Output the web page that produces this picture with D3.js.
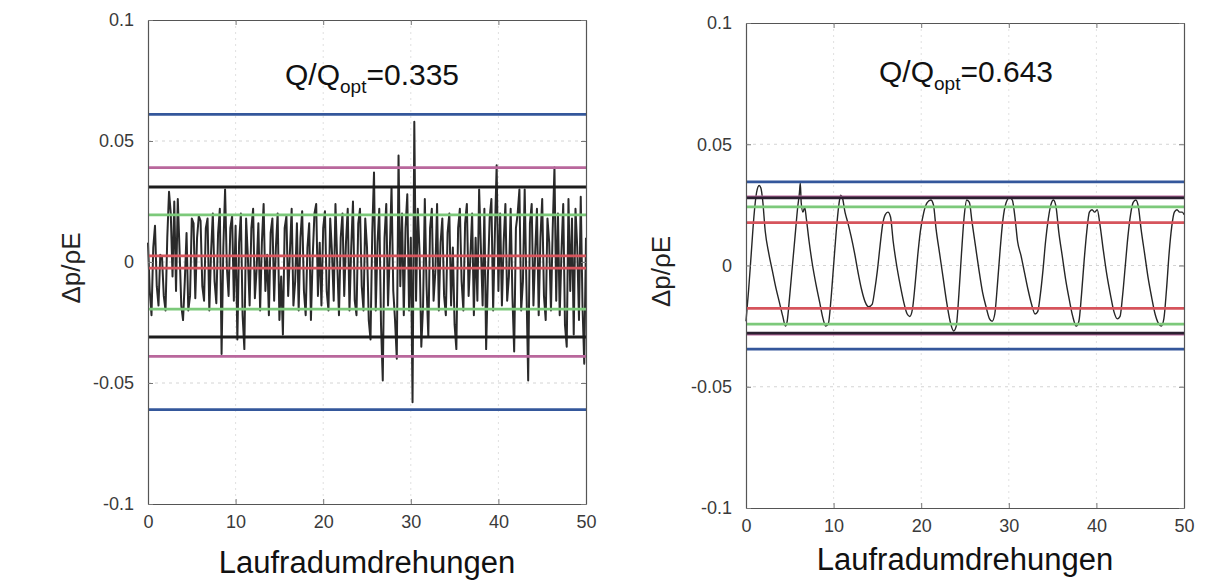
<!DOCTYPE html>
<html>
<head>
<meta charset="utf-8">
<script src="https://cdn.jsdelivr.net/npm/d3@7"></script>
<style>
  body { margin: 0; background: #fff; }
  text { font-family: "Liberation Sans", Arial, sans-serif; }
</style>
</head>
<body>
<div id="chart"></div>
<script>
// SVG size
var svgWidth = 1214;
var svgHeight = 582;

// Axis ticks
var xTicks = [0, 10, 20, 30, 40, 50];
var yTicks = [-0.1, -0.05, 0, 0.05, 0.1];
var gridX = [10, 20, 30, 40];
var gridY = [-0.05, 0, 0.05];

// Left panel: Q/Qopt = 0.335, signal sampled every 0.2 revolutions (values in 1e-3)
var leftStep = 0.2;
var leftSignal = [
  8, -12, -22, 6, 15, -10, -18, 3, 2, -14,
  -20, 10, 29, 20, -6, 25, -12, 26, 5, -18,
  -24, -8, 12, -20, -14, 18, 16, -15, 10, 19,
  17, -10, -16, 14, 18, -20, 4, 20, -8, -17,
  12, 22, -38, 6, 30, -2, -14, 14, 19, -16,
  15, -32, 8, 20, -22, -36, 18, 2, -18, 14,
  22, -15, -3, 16, -20, 8, 24, -12, 3, -22,
  12, 18, -16, 6, 20, -24, -6, -30, 14, 19,
  -14, 4, 22, -18, -8, 16, -20, 10, 21, -12,
  -22, 6, 16, -24, 2, 20, 24, -14, 8, -18,
  14, 21, -12, -20, 18, 4, -16, 24, 0, -22,
  10, 20, -14, 8, 22, -20, 6, 25, -16, -22,
  16, 22, -10, -20, 18, 6, -24, -32, 12, 37,
  -20, 8, 22, -26, -49, 10, 24, -18, 4, 31,
  -12, -24, -40, 44, -10, 20, -22, 14, 28, -20,
  10, -58, 58, -16, 22, 4, -35, -18, 26, -10,
  -31, 14, 22, -16, -4, 24, -20, 8, 18, -14,
  -22, 12, 20, -18, 6, -26, -36, 14, 22, -8,
  -20, 16, 24, -14, 2, 20, -22, 10, -16, 30,
  6, -18, 22, -36, -6, 18, 26, -20, 12, 40,
  -12, 20, -18, 8, 24, -16, -6, 22, -14, -37,
  14, 20, 30, -20, -8, 30, -10, -49, 16, 24,
  -18, 4, 22, -22, 10, 26, -14, -24, 18, 8,
  -20, 14, 39, -16, 20, -22, 4, 24, -26, -35,
  26, -12, 18, -30, 22, 6, -24, 27, -18, -42,
  10
];
// limit lines (symmetric +/-)
var leftLimits = [
  { level: 0.061, color: "#34579b" },
  { level: 0.039, color: "#b9679c" },
  { level: 0.031, color: "#1c1c1c" },
  { level: 0.0195, color: "#7cc97a" },
  { level: 0.0025, color: "#d6545c" }
];

// Right panel: Q/Qopt = 0.643 (revolutions, values in 1e-3)
var rightRev = [
  0, 0.3, 0.6, 0.9, 1.2, 1.5, 1.7, 1.9, 2.2, 2.6, 3.0, 3.4, 3.8, 4.2, 4.5, 4.7,
  5.0, 5.3, 5.6, 5.9, 6.1, 6.2, 6.3, 6.5, 6.7, 6.9, 7.2, 7.6, 8.0, 8.4, 8.8, 9.1,
  9.4, 9.7, 10.0, 10.3, 10.6, 10.8, 11.0, 11.3, 11.6, 12.0, 12.4, 12.8, 13.2, 13.6,
  14.0, 14.4, 14.7, 15.0, 15.3, 15.6, 15.9, 16.2, 16.5, 16.8, 17.2, 17.6, 18.0,
  18.4, 18.7, 19.0, 19.3, 19.6, 19.9, 20.3, 20.7, 21.1, 21.4, 21.7, 22.1, 22.5,
  22.9, 23.3, 23.7, 24.0, 24.3, 24.6, 24.9, 25.2, 25.5, 25.8, 26.2, 26.6, 27.0,
  27.4, 27.8, 28.1, 28.4, 28.7, 29.0, 29.3, 29.7, 30.1, 30.4, 30.7, 31.0, 31.4,
  31.8, 32.2, 32.6, 33.0, 33.3, 33.6, 33.9, 34.2, 34.5, 34.8, 35.1, 35.4, 35.7,
  36.1, 36.5, 36.9, 37.3, 37.7, 38.0, 38.3, 38.6, 38.9, 39.2, 39.5, 39.8, 40.1,
  40.4, 40.8, 41.2, 41.6, 42.0, 42.4, 42.7, 43.0, 43.3, 43.6, 43.9, 44.2, 44.5,
  44.8, 45.1, 45.5, 45.9, 46.3, 46.7, 47.1, 47.4, 47.7, 48.0, 48.3, 48.6, 48.9,
  49.2, 49.5, 49.8, 50
];
var rightSignal = [
  -23, -10, 5, 20, 30, 33, 32, 27, 14, 5, -2, -9, -15, -21, -25, -23,
  -12, 0, 12, 24, 30, 34, 26, 22, 24, 19, 10, 0, -8, -15, -22, -25,
  -24, -14, 0, 14, 25, 29, 28, 22, 18, 12, 5, -3, -10, -15,
  -17, -16, -10, -2, 8, 17, 21, 22, 20, 10, 0, -8, -15,
  -20, -21, -18, -8, 4, 14, 22, 26, 27, 25, 15, 5, -5,
  -15, -23, -27, -25, -12, 5, 20, 27, 26, 18, 8, -2, -11,
  -17, -22, -23, -20, -8, 6, 18, 26, 28, 27, 20, 10, 4,
  -3, -10, -16, -20, -19, -12, -2, 10, 19, 25, 27, 24, 14,
  4, -6, -14, -21, -25, -23, -12, 2, 14, 22, 23, 22, 23,
  17, 6, -4, -12, -19, -22, -21, -12, 0, 12, 21, 26, 27,
  24, 15, 5, -5, -13, -20, -24, -25, -22, -10, 5, 16, 22,
  23, 22, 22, 21
];
var rightLimits = [
  { level: 0.0345, color: "#34579b" },
  { level: 0.0283, color: "#b9679c" },
  { level: 0.0279, color: "#2a2030" },
  { level: 0.0242, color: "#7cc97a" },
  { level: 0.0177, color: "#d6545c" }
];

var svg = d3.select("#chart")
  .append("svg")
  .attr("width", svgWidth)
  .attr("height", svgHeight);

// draw one panel
function drawPanel(opts) {
  var xScale = d3.scaleLinear().domain([0, 50]).range([opts.left, opts.right]);
  var yScale = d3.scaleLinear().domain([-0.1, 0.1]).range([opts.bottom, opts.top]);
  var g = svg.append("g");

  // faint dashed grid
  g.selectAll(".gx").data(gridX).enter().append("line")
    .attr("x1", d => xScale(d)).attr("x2", d => xScale(d))
    .attr("y1", opts.top).attr("y2", opts.bottom)
    .attr("stroke", "#e0e0e0").attr("stroke-width", 1)
    .attr("stroke-dasharray", "2,4");
  g.selectAll(".gy").data(gridY).enter().append("line")
    .attr("x1", opts.left).attr("x2", opts.right)
    .attr("y1", d => yScale(d)).attr("y2", d => yScale(d))
    .attr("stroke", "#d4d4d4").attr("stroke-width", 1)
    .attr("stroke-dasharray", "3,4");

  // signal
  var line = d3.line()
    .x(d => xScale(d[0]))
    .y(d => yScale(d[1] / 1000))
    .curve(opts.curve);
  g.append("path")
    .datum(opts.data)
    .attr("fill", "none")
    .attr("stroke", opts.signalColor)
    .attr("stroke-width", opts.signalWidth)
    .attr("stroke-linejoin", "round")
    .attr("d", line);

  // limit lines (on top of the signal)
  var levels = [];
  opts.limits.forEach(function(l) {
    levels.push({ v: l.level, color: l.color });
    levels.push({ v: -l.level, color: l.color });
  });
  g.selectAll(".lim").data(levels).enter().append("line")
    .attr("x1", opts.left).attr("x2", opts.right)
    .attr("y1", d => yScale(d.v)).attr("y2", d => yScale(d.v))
    .attr("stroke", d => d.color).attr("stroke-width", 2.8);

  // box with inward ticks on all sides (matlab style)
  var bottomAxis = d3.axisBottom(xScale).tickValues(xTicks).tickSizeInner(-5).tickSizeOuter(0).tickPadding(11);
  var topAxis = d3.axisTop(xScale).tickValues(xTicks).tickSizeInner(-5).tickSizeOuter(0).tickFormat("");
  var leftAxis = d3.axisLeft(yScale).tickValues(yTicks).tickSizeInner(-5).tickSizeOuter(0).tickPadding(14)
    .tickFormat(d => d === 0 ? "0" : String(d));
  var rightAxis = d3.axisRight(yScale).tickValues(yTicks).tickSizeInner(-5).tickSizeOuter(0).tickFormat("");

  var axes = [
    g.append("g").attr("transform", `translate(0, ${opts.bottom})`).call(bottomAxis),
    g.append("g").attr("transform", `translate(0, ${opts.top})`).call(topAxis),
    g.append("g").attr("transform", `translate(${opts.left}, 0)`).call(leftAxis),
    g.append("g").attr("transform", `translate(${opts.right}, 0)`).call(rightAxis)
  ];
  axes.forEach(function(a) {
    a.select(".domain").attr("stroke", "#555").attr("stroke-width", 1.2);
    a.selectAll(".tick line").attr("stroke", "#777");
    a.selectAll(".tick text").attr("fill", "#3a3a3a").style("font-size", "18px")
      .style("font-family", "'Liberation Sans', Arial, sans-serif");
  });

  // title Q/Qopt
  var t = g.append("text")
    .attr("x", opts.titleX).attr("y", opts.titleY)
    .attr("text-anchor", "middle")
    .attr("fill", "#111")
    .style("font-size", "30px");
  t.append("tspan").text("Q/Q");
  t.append("tspan").attr("dy", 8).style("font-size", "19px").text("opt");
  t.append("tspan").attr("dy", -8).text("=" + opts.ratio);

  // y label
  g.append("text")
    .attr("transform", `translate(${opts.yLabelX}, ${(opts.top + opts.bottom) / 2 + 6}) rotate(-90)`)
    .attr("text-anchor", "middle")
    .attr("fill", "#222")
    .style("font-size", "26px")
    .text("\u0394p/\u03C1E");

  // x label
  g.append("text")
    .attr("x", (opts.left + opts.right) / 2)
    .attr("y", opts.xLabelY)
    .attr("text-anchor", "middle")
    .attr("fill", "#111")
    .style("font-size", "31px")
    .text("Laufradumdrehungen");
}

var leftData = leftSignal.map((v, i) => [i * leftStep, v]);
var rightData = rightSignal.map((v, i) => [rightRev[i], v]);

drawPanel({
  left: 148, right: 586, top: 20, bottom: 504,
  data: leftData, limits: leftLimits,
  curve: d3.curveLinear, signalColor: "#2a2a2a", signalWidth: 2,
  ratio: "0.335", titleX: 372, titleY: 85,
  yLabelX: 80, xLabelY: 573
});

drawPanel({
  left: 746, right: 1184, top: 23, bottom: 508,
  data: rightData, limits: rightLimits,
  curve: d3.curveMonotoneX, signalColor: "#262626", signalWidth: 1.4,
  ratio: "0.643", titleX: 966, titleY: 82,
  yLabelX: 670, xLabelY: 570
});
</script>
</body>
</html>
